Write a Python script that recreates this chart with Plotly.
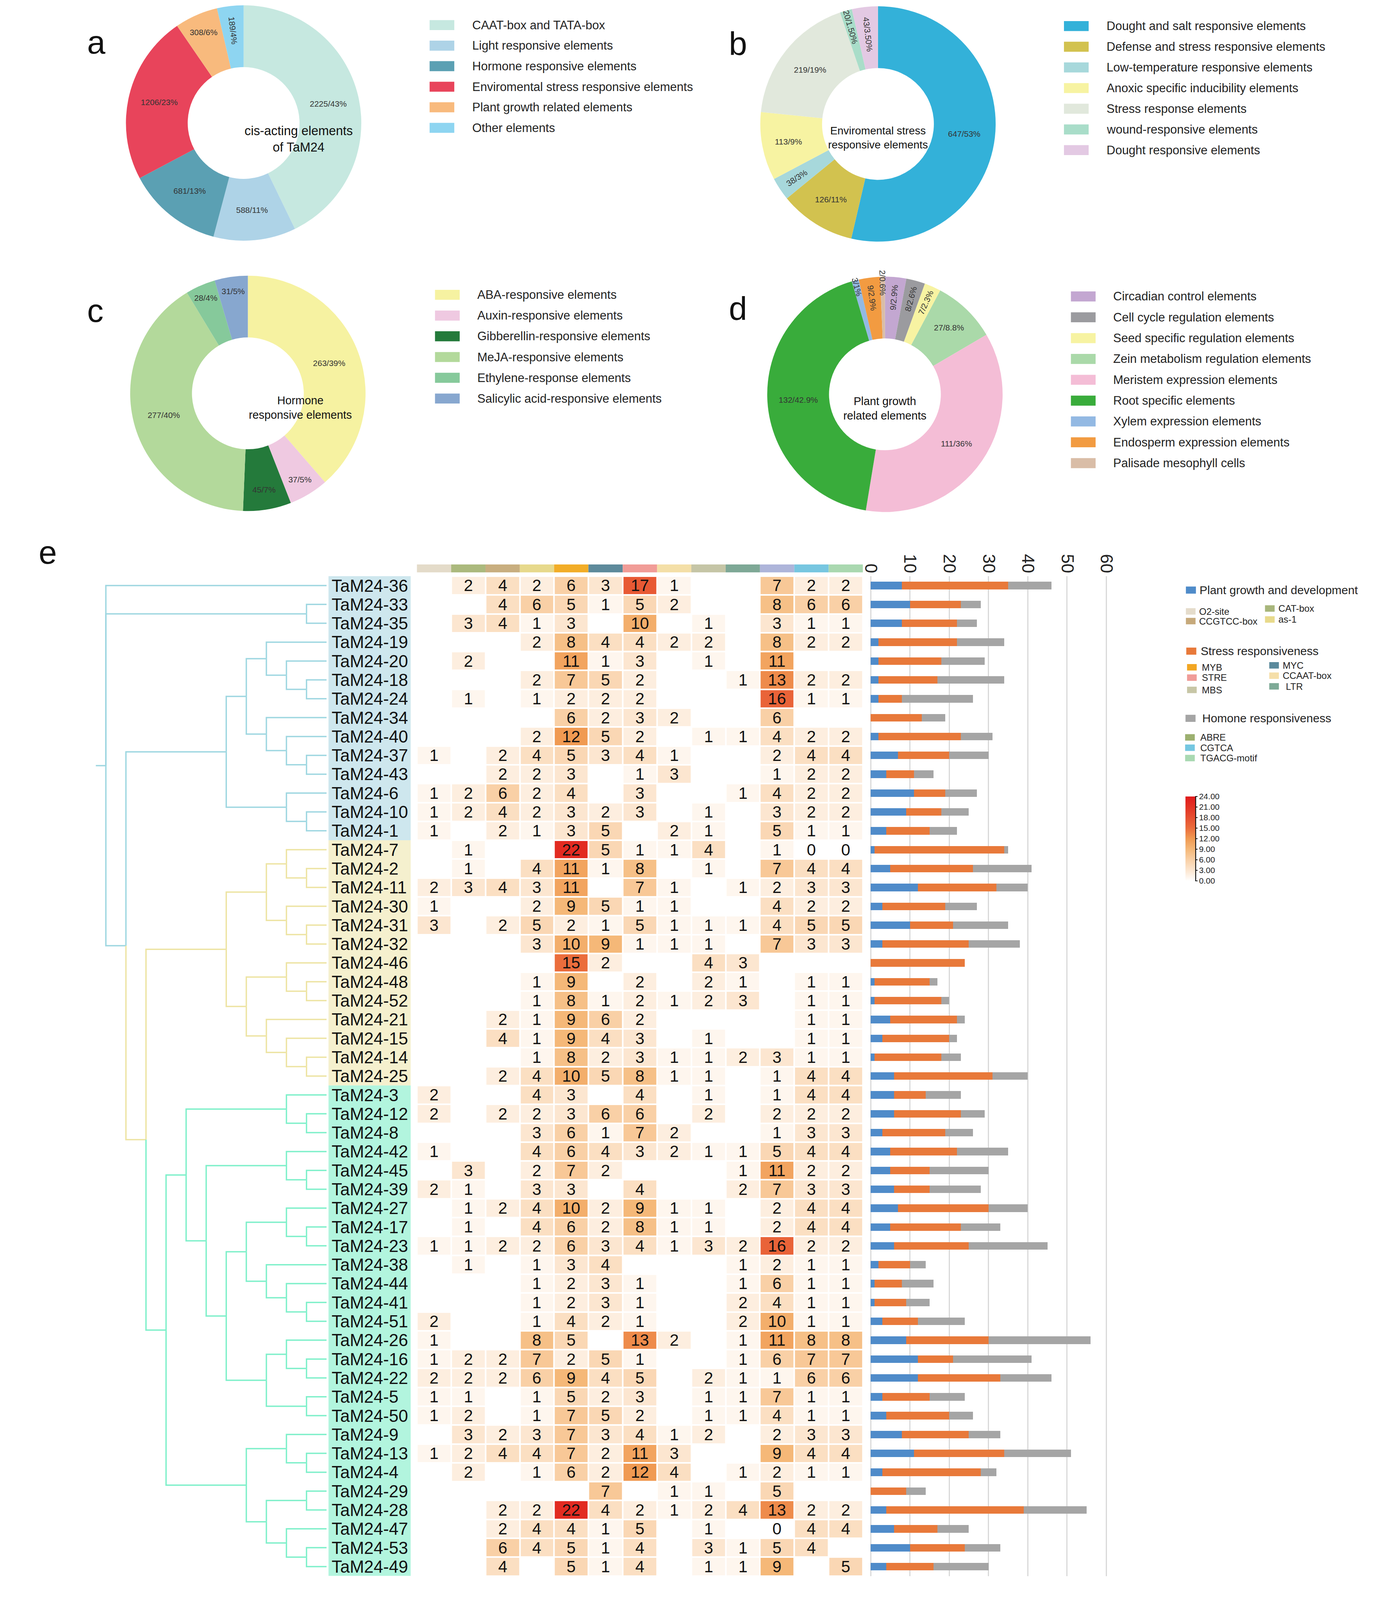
import plotly.graph_objects as go

# Reference frame (all positions below are measured in the 3551x4953 reference and
# converted to paper fractions).  The browser viewport is only 4096 px tall, so the
# figure is rendered 3551x4096 with the same fractional layout.
W, H = 3551, 4953
OUT_W, OUT_H = 3551, 4096
K = OUT_H / H          # vertical compression factor
PIE_R = 305            # rendered donut radius (px)
PS = PIE_R / 339       # font scale for texts inside donuts
FONT = "Liberation Sans, Arial, Helvetica, sans-serif"


def fx(p):
    return p / W


def fy(p):
    return 1 - p / H


# ------------------------------------------------------------------ panels a-d data
a_labels = ["CAAT-box and TATA-box", "Light responsive elements", "Hormone responsive elements",
            "Enviromental stress responsive elements", "Plant growth related elements", "Other elements"]
a_values = [2225, 588, 681, 1206, 308, 189]
a_text = ["2225/43%", "588/11%", "681/13%", "1206/23%", "308/6%", "189/4%"]
a_colors = ["#C6E8E0", "#AED3E7", "#5BA0B3", "#E8445B", "#F8BA7D", "#8ED5F1"]

b_labels = ["Dought and salt responsive elements", "Defense and stress responsive elements",
            "Low-temperature responsive elements", "Anoxic specific inducibility elements",
            "Stress response elements", "wound-responsive elements", "Dought responsive elements"]
b_values = [647, 126, 38, 113, 219, 20, 43]
b_text = ["647/53%", "126/11%", "38/3%", "113/9%", "219/19%", "20/1.50%", "43/3.50%"]
b_colors = ["#33B1D9", "#D2C24F", "#A7D8DB", "#F7F3A2", "#E1E8DC", "#A9DDC9", "#E3C9E3"]

c_labels = ["ABA-responsive elements", "Auxin-responsive elements", "Gibberellin-responsive elements",
            "MeJA-responsive elements", "Ethylene-response elements", "Salicylic acid-responsive elements"]
c_values = [263, 37, 45, 277, 28, 31]
c_text = ["263/39%", "37/5%", "45/7%", "277/40%", "28/4%", "31/5%"]
c_colors = ["#F6F2A1", "#EFC9E1", "#247A3B", "#B3D99B", "#86C99B", "#87A7CF"]

d_labels = ["Circadian control elements", "Cell cycle regulation elements", "Seed specific regulation elements",
            "Zein metabolism regulation elements", "Meristem expression elements", "Root specific elements",
            "Xylem expression elements", "Endosperm expression elements", "Palisade mesophyll cells"]
d_values = [9, 8, 7, 27, 111, 132, 3, 9, 2]
d_text = ["9/2.9%", "8/2.6%", "7/2.3%", "27/8.8%", "111/36%", "132/42.9%", "3/1%", "9/2.9%", "2/0.6%"]
d_colors = ["#C3A7D1", "#9B9B9F", "#F7F3A2", "#AAD9A9", "#F4BDD6", "#39AC3B", "#93B9E3", "#F29B41", "#D9BDA7"]

# ------------------------------------------------------------------ panel e data
genes = ["TaM24-36", "TaM24-33", "TaM24-35", "TaM24-19", "TaM24-20", "TaM24-18", "TaM24-24", "TaM24-34",
         "TaM24-40", "TaM24-37", "TaM24-43", "TaM24-6", "TaM24-10", "TaM24-1",
         "TaM24-7", "TaM24-2", "TaM24-11", "TaM24-30", "TaM24-31", "TaM24-32", "TaM24-46", "TaM24-48",
         "TaM24-52", "TaM24-21", "TaM24-15", "TaM24-14", "TaM24-25",
         "TaM24-3", "TaM24-12", "TaM24-8", "TaM24-42", "TaM24-45", "TaM24-39", "TaM24-27", "TaM24-17",
         "TaM24-23", "TaM24-38", "TaM24-44", "TaM24-41", "TaM24-51", "TaM24-26", "TaM24-16", "TaM24-22",
         "TaM24-5", "TaM24-50", "TaM24-9", "TaM24-13", "TaM24-4", "TaM24-29", "TaM24-28", "TaM24-47",
         "TaM24-53", "TaM24-49"]
gene_group = [0] * 14 + [1] * 13 + [2] * 26
group_label_bg = ["#CEE7EE", "#F5F0CE", "#B2F5DE"]
group_line_colors = ["#9FD7E1", "#EDE4A3", "#7FF0CA"]

motifs = ["O2-site", "CAT-box", "CCGTCC-box", "as-1", "MYB", "MYC", "STRE", "CCAAT-box", "MBS", "LTR",
          "ABRE", "CGTCA", "TGACG-motif"]
motif_header_colors = ["#E4DBC9", "#ABB97D", "#C8AE7F", "#E7D98C", "#F2AD27", "#5D8A9B", "#F19C97",
                       "#F4DFA7", "#C5C5A6", "#7EA896", "#AEB5DA", "#77C6E0", "#AAD8B0"]

N = None
heat = [
    [N, 2, 4, 2, 6, 3, 17, 1, N, N, 7, 2, 2],
    [N, N, 4, 6, 5, 1, 5, 2, N, N, 8, 6, 6],
    [N, 3, 4, 1, 3, N, 10, N, 1, N, 3, 1, 1],
    [N, N, N, 2, 8, 4, 4, 2, 2, N, 8, 2, 2],
    [N, 2, N, N, 11, 1, 3, N, 1, N, 11, N, N],
    [N, N, N, 2, 7, 5, 2, N, N, 1, 13, 2, 2],
    [N, 1, N, 1, 2, 2, 2, N, N, N, 16, 1, 1],
    [N, N, N, N, 6, 2, 3, 2, N, N, 6, N, N],
    [N, N, N, 2, 12, 5, 2, N, 1, 1, 4, 2, 2],
    [1, N, 2, 4, 5, 3, 4, 1, N, N, 2, 4, 4],
    [N, N, 2, 2, 3, N, 1, 3, N, N, 1, 2, 2],
    [1, 2, 6, 2, 4, N, 3, N, N, 1, 4, 2, 2],
    [1, 2, 4, 2, 3, 2, 3, N, 1, N, 3, 2, 2],
    [1, N, 2, 1, 3, 5, N, 2, 1, N, 5, 1, 1],
    [N, 1, N, N, 22, 5, 1, 1, 4, N, 1, 0, 0],
    [N, 1, N, 4, 11, 1, 8, N, 1, N, 7, 4, 4],
    [2, 3, 4, 3, 11, N, 7, 1, N, 1, 2, 3, 3],
    [1, N, N, 2, 9, 5, 1, 1, N, N, 4, 2, 2],
    [3, N, 2, 5, 2, 1, 5, 1, 1, 1, 4, 5, 5],
    [N, N, N, 3, 10, 9, 1, 1, 1, N, 7, 3, 3],
    [N, N, N, N, 15, 2, N, N, 4, 3, N, N, N],
    [N, N, N, 1, 9, N, 2, N, 2, 1, N, 1, 1],
    [N, N, N, 1, 8, 1, 2, 1, 2, 3, N, 1, 1],
    [N, N, 2, 1, 9, 6, 2, N, N, N, N, 1, 1],
    [N, N, 4, 1, 9, 4, 3, N, 1, N, N, 1, 1],
    [N, N, N, 1, 8, 2, 3, 1, 1, 2, 3, 1, 1],
    [N, N, 2, 4, 10, 5, 8, 1, 1, N, 1, 4, 4],
    [2, N, N, 4, 3, N, 4, N, 1, N, 1, 4, 4],
    [2, N, 2, 2, 3, 6, 6, N, 2, N, 2, 2, 2],
    [N, N, N, 3, 6, 1, 7, 2, N, N, 1, 3, 3],
    [1, N, N, 4, 6, 4, 3, 2, 1, 1, 5, 4, 4],
    [N, 3, N, 2, 7, 2, N, N, N, 1, 11, 2, 2],
    [2, 1, N, 3, 3, N, 4, N, N, 2, 7, 3, 3],
    [N, 1, 2, 4, 10, 2, 9, 1, 1, N, 2, 4, 4],
    [N, 1, N, 4, 6, 2, 8, 1, 1, N, 2, 4, 4],
    [1, 1, 2, 2, 6, 3, 4, 1, 3, 2, 16, 2, 2],
    [N, 1, N, 1, 3, 4, N, N, N, 1, 2, 1, 1],
    [N, N, N, 1, 2, 3, 1, N, N, 1, 6, 1, 1],
    [N, N, N, 1, 2, 3, 1, N, N, 2, 4, 1, 1],
    [2, N, N, 1, 4, 2, 1, N, N, 2, 10, 1, 1],
    [1, N, N, 8, 5, N, 13, 2, N, 1, 11, 8, 8],
    [1, 2, 2, 7, 2, 5, 1, N, N, 1, 6, 7, 7],
    [2, 2, 2, 6, 9, 4, 5, N, 2, 1, 1, 6, 6],
    [1, 1, N, 1, 5, 2, 3, N, 1, 1, 7, 1, 1],
    [1, 2, N, 1, 7, 5, 2, N, 1, 1, 4, 1, 1],
    [N, 3, 2, 3, 7, 3, 4, 1, 2, N, 2, 3, 3],
    [1, 2, 4, 4, 7, 2, 11, 3, N, N, 9, 4, 4],
    [N, 2, N, 1, 6, 2, 12, 4, N, 1, 2, 1, 1],
    [N, N, N, N, N, 7, N, 1, 1, N, 5, N, N],
    [N, N, 2, 2, 22, 4, 2, 1, 2, 4, 13, 2, 2],
    [N, N, 2, 4, 4, 1, 5, N, 1, N, 0, 4, 4],
    [N, N, 6, 4, 5, 1, 4, N, 3, 1, 5, 4, N],
    [N, N, 4, N, 5, 1, 4, N, 1, 1, 9, N, 5],
]

bar_plant = [8, 10, 8, 2, 2, 2, 2, 0, 2, 7, 4, 11, 9, 4,
             1, 5, 12, 3, 10, 3, 0, 1, 1, 5, 3, 1, 6,
             6, 6, 3, 5, 5, 6, 7, 5, 6, 2, 1, 1, 3, 9, 12, 12, 3, 4, 8, 11, 3, 0, 4, 6, 10, 4]
bar_stress = [27, 13, 14, 20, 16, 15, 6, 13, 21, 13, 7, 8, 9, 11,
              33, 21, 20, 16, 11, 22, 24, 14, 17, 17, 17, 17, 25,
              8, 17, 16, 17, 10, 9, 23, 18, 19, 8, 7, 8, 9, 21, 9, 21, 12, 16, 17, 23, 25, 9, 35, 11, 14, 12]
bar_hormone = [11, 5, 5, 12, 11, 17, 18, 6, 8, 10, 5, 8, 7, 7,
               1, 15, 8, 8, 14, 13, 0, 2, 2, 2, 2, 5, 9,
               9, 6, 7, 13, 15, 13, 10, 10, 20, 4, 8, 6, 12, 26, 20, 13, 9, 6, 8, 17, 4, 5, 16, 8, 9, 14]
bar_names = ["Plant growth and development", "Stress responsiveness", "Homone responsiveness"]
bar_colors = ["#4F8BC9", "#E8793A", "#A5A5A5"]
bar_ticks = [0, 10, 20, 30, 40, 50, 60]

# dendrogram merges: (children, merge level); node ids continue after the 53 leaves
merges = [
    ([5, 6], 1), ([4, 53], 2), ([3, 54], 3), ([9, 10], 1), ([8, 56], 2), ([7, 57], 3), ([55, 58], 4),
    ([12, 13], 1), ([11, 60], 2), ([59, 61], 5), ([1, 2], 1),
    ([15, 16], 1), ([14, 64], 2), ([18, 19], 1), ([17, 66], 2), ([65, 67], 3), ([21, 22], 1),
    ([20, 69], 2), ([25, 26], 1), ([24, 71], 2), ([23, 72], 3), ([70, 73], 4), ([68, 74], 5),
    ([28, 29], 1), ([27, 76], 2), ([31, 32], 1), ([30, 78], 2), ([34, 35], 1), ([33, 80], 2),
    ([38, 39], 1), ([37, 82], 2), ([36, 83], 3), ([81, 84], 4), ([41, 42], 1), ([40, 86], 2),
    ([43, 44], 1), ([87, 88], 3), ([85, 89], 5), ([79, 90], 6), ([77, 91], 7), ([46, 47], 1),
    ([45, 93], 2), ([48, 49], 1), ([51, 52], 1), ([50, 96], 2), ([95, 97], 3), ([94, 98], 4),
    ([92, 99], 8), ([75, 100], 9), ([62, 101], 10), ([0, 63, 102], 11),
]

cbar_ticks = [0, 3, 6, 9, 12, 15, 18, 21, 24]

# ------------------------------------------------------------------ figure
fig = go.Figure()
shapes = []
annots = []

donuts = [
    dict(tag="a", labels=a_labels, values=a_values, text=a_text, colors=a_colors, cx=603, cy=371,
         title="cis-acting elements<br>of TaM24", tsize=36, tag_xy=(195, 62), leg_x=1085, leg_y=68, leg_dy=63.6),
    dict(tag="b", labels=b_labels, values=b_values, text=b_text, colors=b_colors, cx=2247, cy=374,
         title="Enviromental stress<br>responsive elements", tsize=31, tag_xy=(1884, 66), leg_x=2729, leg_y=71,
         leg_dy=64),
    dict(tag="c", labels=c_labels, values=c_values, text=c_text, colors=c_colors, cx=614, cy=1208,
         title="Hormone<br>responsive elements", tsize=32, tag_xy=(195, 893), leg_x=1099, leg_y=903, leg_dy=64.2),
    dict(tag="d", labels=d_labels, values=d_values, text=d_text, colors=d_colors, cx=2265, cy=1211,
         title="Plant growth<br>related elements", tsize=32, tag_xy=(1884, 886), leg_x=2747, leg_y=908,
         leg_dy=64.5),
]

for dn in donuts:
    cxf, cyf = fx(dn["cx"]), fy(dn["cy"])
    fig.add_trace(go.Pie(
        labels=dn["labels"], values=dn["values"], text=dn["text"], textinfo="text",
        textposition="inside", insidetextorientation="auto", sort=False, direction="clockwise",
        rotation=0, hole=0.475, marker=dict(colors=dn["colors"], line=dict(width=0)),
        textfont=dict(family=FONT, size=round(23 * PS), color="#333333"),
        domain=dict(x=[cxf - PIE_R / OUT_W, cxf + PIE_R / OUT_W], y=[cyf - PIE_R / OUT_H, cyf + PIE_R / OUT_H]),
        showlegend=False, hoverinfo="label+value",
    ))
    annots.append(dict(x=cxf, y=cyf, xref="paper", yref="paper", text=dn["title"], showarrow=False,
                       font=dict(family=FONT, size=dn["tsize"] * PS, color="#111111"), align="center"))
    annots.append(dict(x=fx(dn["tag_xy"][0]), y=fy(dn["tag_xy"][1]), xref="paper", yref="paper",
                       text=dn["tag"], showarrow=False, font=dict(family=FONT, size=84, color="#111111")))
    for i, (lab, col) in enumerate(zip(dn["labels"], dn["colors"])):
        yc = dn["leg_y"] + i * dn["leg_dy"]
        shapes.append(dict(type="rect", xref="paper", yref="paper", x0=fx(dn["leg_x"]), x1=fx(dn["leg_x"] + 64),
                           y0=fy(yc + 15.5), y1=fy(yc - 15.5), fillcolor=col, line=dict(width=0)))
        annots.append(dict(x=fx(dn["leg_x"] + 108), y=fy(yc), xref="paper", yref="paper", text=lab,
                           showarrow=False, xanchor="left", yanchor="middle",
                           font=dict(family=FONT, size=31, color="#222222")))

annots.append(dict(x=fx(70), y=fy(1700), xref="paper", yref="paper", text="e", showarrow=False,
                   font=dict(family=FONT, size=84, color="#111111")))

# ---------------- dendrogram
n_leaf = len(genes)
ypos = {i: float(i) for i in range(n_leaf)}
hgt = {i: 0.0 for i in range(n_leaf)}
leftleaf = {i: i for i in range(n_leaf)}
children = {}
for k, (ch, h) in enumerate(merges):
    nid = n_leaf + k
    children[nid] = ch
    ypos[nid] = (ypos[ch[0]] + ypos[ch[-1]]) / 2
    hgt[nid] = h
    leftleaf[nid] = min(leftleaf[c] for c in ch)


def node_color(n):
    return group_line_colors[gene_group[leftleaf[n]]]


seg = {c: ([], []) for c in group_line_colors}
for nid, ch in children.items():
    for c in ch:
        xs, ys = seg[node_color(c)]
        xs += [hgt[nid], hgt[nid], hgt[c], None]
        ys += [ypos[nid], ypos[c], ypos[c], None]
root = n_leaf + len(merges) - 1
xs, ys = seg[node_color(root)]
xs += [hgt[root], hgt[root] + 0.5, None]
ys += [ypos[root], ypos[root], None]
for col, (xs, ys) in seg.items():
    fig.add_trace(go.Scatter(x=xs, y=ys, mode="lines", line=dict(color=col, width=3.5),
                             xaxis="x", yaxis="y", showlegend=False, hoverinfo="skip"))

# ---------------- gene labels with group backgrounds
for g in range(3):
    rows = [i for i, gg in enumerate(gene_group) if gg == g]
    shapes.append(dict(type="rect", xref="paper", yref="y2", x0=fx(823), x1=fx(1036),
                       y0=min(rows) - 0.5, y1=max(rows) + 0.5, fillcolor=group_label_bg[g],
                       line=dict(width=0), layer="below"))
for i, gname in enumerate(genes):
    annots.append(dict(x=fx(829), y=i, xref="paper", yref="y2", text=gname, showarrow=False,
                       xanchor="left", yanchor="middle", font=dict(family=FONT, size=44, color="#111111")))

# ---------------- header colour bar
for j, col in enumerate(motif_header_colors):
    shapes.append(dict(type="rect", xref="x2", yref="y2", x0=j - 0.5, x1=j + 0.5, y0=-1.12, y1=-0.70,
                       fillcolor=col, line=dict(width=0)))

# ---------------- heatmap
heat_cs = [[0, "#FFFFFF"], [0.042, "#FEF6EE"], [0.125, "#FCE6D0"], [0.25, "#F9D0A6"],
           [0.375, "#F5B878"], [0.5, "#F09A52"], [0.625, "#EB6D3C"], [0.75, "#E64F30"],
           [0.875, "#E33324"], [1, "#E01A1C"]]
heat_txt = [["" if v is None else str(v) for v in row] for row in heat]
fig.add_trace(go.Heatmap(
    z=heat, x=list(range(len(motifs))), y=list(range(n_leaf)), text=heat_txt, texttemplate="%{text}",
    textfont=dict(family=FONT, size=42, color="#111111"), colorscale=heat_cs, zmin=0, zmax=24,
    xgap=4, ygap=4, xaxis="x2", yaxis="y2", hoverinfo="skip",
    colorbar=dict(x=fx(3044), xanchor="left", y=fy(2586), yanchor="middle", len=261 / H, lenmode="fraction",
                  thickness=25, thicknessmode="pixels", xpad=0, ypad=0, outlinewidth=0,
                  tickvals=cbar_ticks, ticktext=["%.2f" % t for t in cbar_ticks], ticks="outside",
                  ticklen=6, tickwidth=2, tickcolor="#111111",
                  tickfont=dict(family=FONT, size=21, color="#222222")),
))
shapes.append(dict(type="line", xref="paper", yref="paper", x0=fx(3070), x1=fx(3070), y0=fy(2716.5),
                   y1=fy(2455.5), line=dict(color="#111111", width=3)))

# ---------------- stacked bars
for vals, name, col in zip([bar_plant, bar_stress, bar_hormone], bar_names, bar_colors):
    fig.add_trace(go.Bar(x=vals, y=list(range(n_leaf)), orientation="h", width=0.4, marker=dict(color=col,
                         line=dict(width=0)), name=name, xaxis="x3", yaxis="y3", showlegend=False,
                         hoverinfo="x+name"))

# ---------------- panel e legend
hdr = [(0, 1817, 3045, 3078), (1, 2006, 3046, 3081), (2, 2214, 3044, 3085)]
for gi, yc, sx, tx in hdr:
    shapes.append(dict(type="rect", xref="paper", yref="paper", x0=fx(sx), x1=fx(sx + 26), y0=fy(yc + 11),
                       y1=fy(yc - 11), fillcolor=bar_colors[gi], line=dict(width=0)))
    annots.append(dict(x=fx(tx), y=fy(yc), xref="paper", yref="paper", text=bar_names[gi], showarrow=False,
                       xanchor="left", yanchor="middle", font=dict(family=FONT, size=30, color="#222222")))
legend_motif_colors = ["#E5DCCB", "#A8B67B", "#C6A97B", "#E8DA8B", "#F2A623", "#5B8A9C", "#F09C98",
                       "#F5DFA9", "#C7C6A6", "#7EAA97", "#9CB070", "#75C7E1", "#A9D9B2"]
item_pos = [(3045, 1883, 3077), (3250, 1874, 3283), (3045, 1913, 3077), (3250, 1908, 3283),
            (3048, 2056, 3084), (3261, 2050, 3294), (3048, 2088, 3084), (3261, 2082, 3294),
            (3048, 2126, 3084), (3261, 2115, 3302), (3043, 2273, 3080), (3043, 2305, 3080),
            (3043, 2337, 3080)]
for name, col, (sx, yc, tx) in zip(motifs, legend_motif_colors, item_pos):
    shapes.append(dict(type="rect", xref="paper", yref="paper", x0=fx(sx), x1=fx(sx + 25), y0=fy(yc + 10),
                       y1=fy(yc - 10), fillcolor=col, line=dict(width=0)))
    annots.append(dict(x=fx(tx), y=fy(yc), xref="paper", yref="paper", text=name, showarrow=False,
                       xanchor="left", yanchor="middle", font=dict(family=FONT, size=24, color="#222222")))

row_px0, row_pitch = 1803.0, 58.4
ybot = row_px0 + row_pitch * 52.5
ytop_heat = row_px0 - row_pitch * 1.5
ytop_bar = row_px0 - row_pitch * 0.5

fig.update_layout(
    width=OUT_W, height=OUT_H, margin=dict(l=0, r=0, t=0, b=0), paper_bgcolor="white", plot_bgcolor="white",
    font=dict(family=FONT, color="#222222"), barmode="stack", bargap=0,
    uniformtext=dict(minsize=round(23 * PS), mode="show"),
    xaxis=dict(domain=[fx(194), fx(818)], range=[12, 0], visible=False, anchor="y", fixedrange=True),
    yaxis=dict(domain=[fy(ybot), fy(ytop_heat)], range=[52.5, -1.5], visible=False, anchor="x"),
    xaxis2=dict(domain=[fx(1052), fx(2208)], range=[-0.5, 12.5], visible=False, anchor="y2"),
    yaxis2=dict(domain=[fy(ybot), fy(ytop_heat)], range=[52.5, -1.5], visible=False, anchor="x2"),
    xaxis3=dict(domain=[fx(2225), fx(2842)], range=[-0.3, 60.3], side="top", anchor="y3",
                tickvals=bar_ticks, tickangle=90, tickfont=dict(family=FONT, size=44, color="#222222"),
                showgrid=True, gridcolor="#D9D9D9", gridwidth=3, zeroline=False, showline=False, ticks=""),
    yaxis3=dict(domain=[fy(ybot), fy(ytop_bar)], range=[52.5, -0.5], visible=False, anchor="x3"),
    shapes=shapes, annotations=annots,
)

fig.write_html("out.html")
